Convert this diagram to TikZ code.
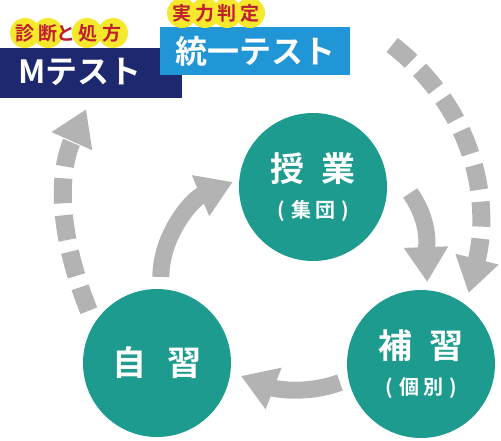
\documentclass[tikz,border=0pt]{standalone}
\usepackage{fontspec}
\usepackage{tikz}
\usetikzlibrary{arrows.meta}
\newfontfamily\jp{Noto Sans CJK JP Bold}
\definecolor{stagegreen}{RGB}{30,155,143}
\definecolor{mnavy}{RGB}{29,40,110}
\definecolor{ublue}{RGB}{33,150,214}
\definecolor{badgeyellow}{RGB}{246,232,45}
\definecolor{tagred}{RGB}{190,30,45}
\definecolor{flowgray}{RGB}{179,179,179}
\begin{document}
\begin{tikzpicture}[x=1pt,y=1pt,
  stage/.style={circle, fill=stagegreen, text=white, minimum size=148pt, inner sep=0pt,
    align=center, font=\jp\fontsize{34}{40}\selectfont},
  flow/.style={draw=flowgray, line width=17pt, -{Triangle[width=42pt,length=35pt]}},
  dflow/.style={flow, line width=18pt, dash pattern=on 25pt off 12pt},
  board/.style={inner sep=0pt, text=white, font=\jp\fontsize{32}{32}\selectfont},
  badge/.style={circle, fill=badgeyellow, minimum size=30pt, inner sep=0pt},
  tag/.style={inner sep=0pt, text=tagred, font=\jp\fontsize{19}{19}\selectfont}]
\def \gap {.5em}
\useasboundingbox (0,0) rectangle (501,440);
\node[board, fill=mnavy, minimum width=182pt, minimum height=50pt] (mtest) at (91,367) {};
\node[board] (mlabel) at (80,368) {Mテスト};
\node[board, fill=ublue, minimum width=190pt, minimum height=48pt] (utest) at (255,389) {統一テスト};
\foreach \x [count=\i] in {25,48,87,113}
  \node[badge] (diag\i) at (\x,407) {};
\foreach \x/\c [count=\i] in {25/診,48/断,66/と,88/処,112/方}
  \node[tag] (diagc\i) at (\x,407) {\c};
\foreach \x/\c [count=\i] in {182/実,205/力,227/判,250/定}
  {\node[badge] (eval\i) at (\x,427) {};
   \node[tag] (evalc\i) at (\x,427) {\c};}

\node[stage] (jugyo) at (313,253) {授\hspace{\gap}業\\[-4pt]{\fontsize{20}{24}\selectfont (\hspace{.3em}集\hspace{.2em}団\hspace{.3em})}};
\node[stage] (hoshu) at (421,76) {補\hspace{\gap}習\\[-4pt]{\fontsize{20}{24}\selectfont (\hspace{.3em}個\hspace{.2em}別\hspace{.3em})}};
\node[stage] (jishu) at (157,77) {自\hspace{.6em}習};

\draw[flow, shorten <=12pt, shorten >=7pt] (jishu.87) to[out=90, in=203] (jugyo.174);
\draw[flow, shorten >=8pt] ([xshift=23pt,yshift=-6pt]jugyo.east) to[out=-55, in=92] (hoshu.85);
\draw[flow, shorten <=9pt, shorten >=11pt] (hoshu.192) to[out=200, in=-21] (jishu.-7);
\draw[dflow, shorten >=12pt] ([xshift=42pt,yshift=6pt]utest.east) to[out=-38, in=76] (hoshu.53);
\draw[dflow, shorten <=14pt, shorten >=12pt] (jishu.148) to[out=112, in=-114] (mtest.south);
\end{tikzpicture}
\end{document}
